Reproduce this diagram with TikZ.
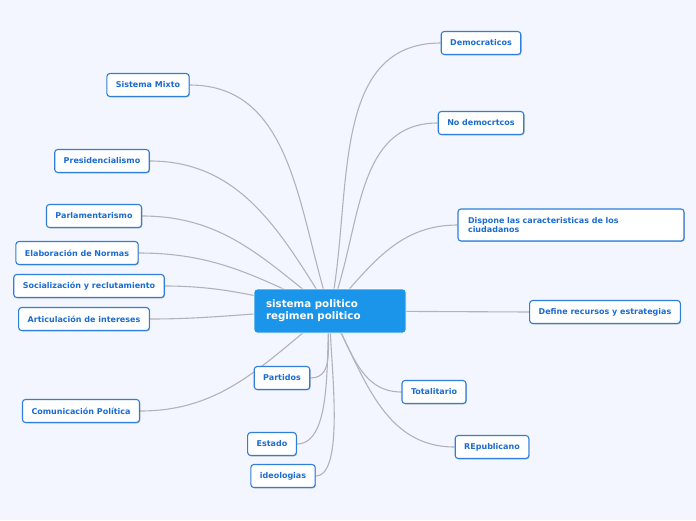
\documentclass[tikz,border=0pt]{standalone}
\usepackage{fontspec}
\setmainfont{DejaVu Sans}
\usepackage{xcolor}
\usetikzlibrary{shadows}
\pgfdeclarelayer{bg}
\pgfsetlayers{bg,main}
\definecolor{pagebg}{HTML}{F3F6FE}
\definecolor{topicline}{HTML}{2F7FDA}
\definecolor{topictext}{HTML}{1B6CD0}
\definecolor{hubfill}{HTML}{1A95E9}
\definecolor{linkgray}{HTML}{B2B3BA}

\begin{document}
\begin{tikzpicture}[
  x=1pt,y=1pt,
  font=\bfseries\fontsize{8}{9.5}\selectfont,
  topic/.style={draw=topicline,line width=1.1pt,rounded corners=3pt,fill=white,
                text=topictext,minimum height=23pt,inner xsep=9pt,
                drop shadow={shadow xshift=0.8pt,shadow yshift=-0.8pt,opacity=0.25,fill=black}},
  hub/.style={fill=hubfill,draw=white,line width=0.8pt,rounded corners=3pt,text=white,
              font=\bfseries\fontsize{10.3}{12}\selectfont,align=left,text width=128pt,
              inner xsep=12pt,minimum height=44pt},
  link/.style={draw=linkgray,line width=1.1pt}]
\useasboundingbox (0,0) rectangle (696,-520);

\node[hub] (sp) at (330,-311) {sistema politico\\regimen politico};

\node[topic] (demo) at (481,-43) {Democraticos};
\node[topic] (nodem) at (481,-123) {No democrtcos};
\node[topic,align=left,text width=206pt,inner xsep=10pt,minimum height=32pt] (disp) at (571,-225)
  {Dispone las caracteristicas de los\\ciudadanos};
\node[topic] (defi) at (605,-312) {Define recursos y estrategias};
\node[topic] (tota) at (434,-392) {Totalitario};
\node[topic] (repu) at (492,-447) {REpublicano};

\node[topic] (mixto) at (148,-85) {Sistema Mixto};
\node[topic] (presi) at (102,-161) {Presidencialismo};
\node[topic] (parla) at (94,-216) {Parlamentarismo};
\node[topic] (elab) at (77,-253) {Elaboración de Normas};
\node[topic] (soci) at (89,-286) {Socialización y reclutamiento};
\node[topic] (arti) at (84,-319) {Articulación de intereses};
\node[topic] (comu) at (81,-411) {Comunicación Política};
\node[topic] (part) at (282,-378) {Partidos};
\node[topic] (esta) at (272,-444) {Estado};
\node[topic] (ideo) at (283,-476) {ideologias};

\begin{pgfonlayer}{bg}
\fill[pagebg] (0,0) rectangle (696,-520);
\draw[link] (sp.center) to[out=78,in=180] (demo.west);
\draw[link] (sp.center) to[out=68,in=180] (nodem.west);
\draw[link] (sp.center) to[out=48,in=180] (disp.west);
\draw[link] (sp.center) -- (defi.west);
\draw[link] (sp.center) to[out=-60,in=180] (tota.west);
\draw[link] (sp.center) to[out=-62,in=180] (repu.west);
\draw[link] (sp.center) to[out=108,in=0] (mixto.east);
\draw[link] (sp.center) to[out=122,in=0] (presi.east);
\draw[link] (sp.center) to[out=142,in=0] (parla.east);
\draw[link] (sp.center) to[out=155,in=0] (elab.east);
\draw[link] (sp.center) to[out=170,in=0] (soci.east);
\draw[link] (sp.center) to[out=180,in=0] (arti.east);
\draw[link] (sp.center) to[out=218,in=0] (comu.east);
\draw[link] (sp.center) to[out=258,in=0] (part.east);
\draw[link] (sp.center) to[out=262,in=0,looseness=0.7] (esta.east);
\draw[link] (sp.center) to[out=266,in=0,looseness=0.5] (ideo.east);
\end{pgfonlayer}
\end{tikzpicture}
\end{document}
